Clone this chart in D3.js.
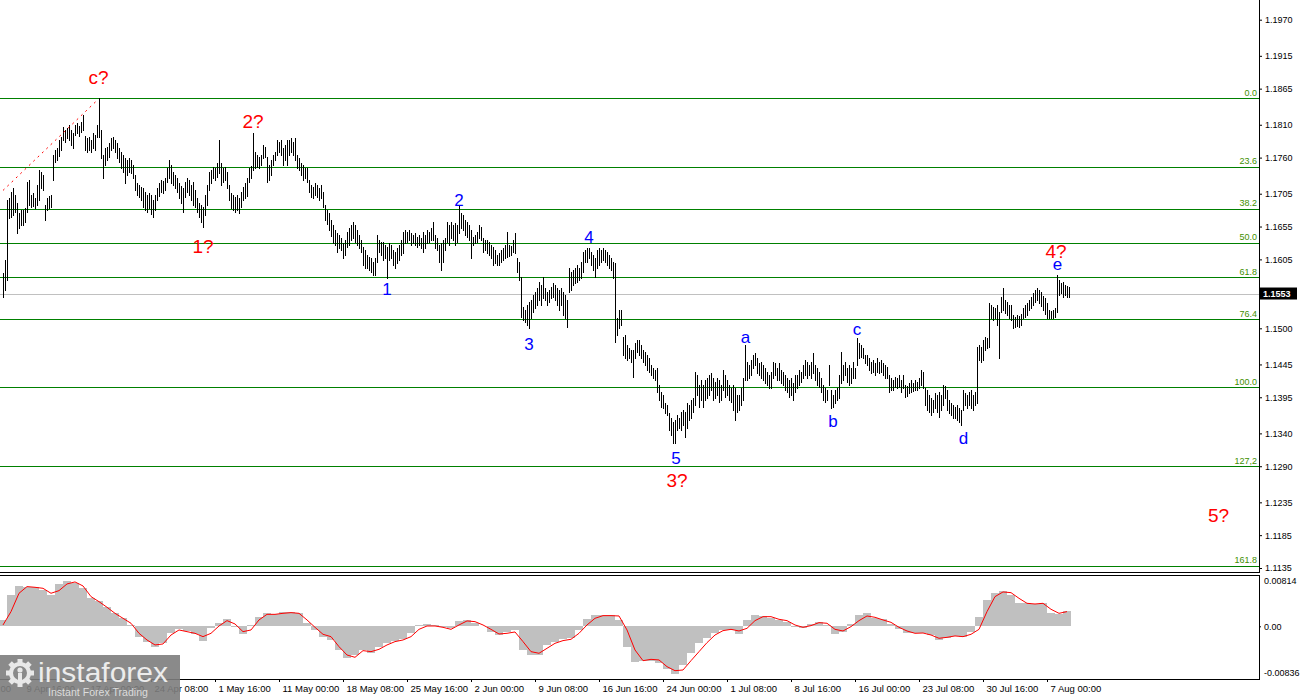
<!DOCTYPE html>
<html>
<head>
<meta charset="utf-8">
<script src="https://cdn.jsdelivr.net/npm/d3@7"></script>
<style>
  html, body { margin: 0; padding: 0; background: #fff; overflow: hidden; }
</style>
</head>
<body>
<svg id="chart" width="1300" height="700"></svg>
<script>
// H4 bars, high / low of each bar, left to right
const highs = [
  1.1584,1.1604,1.1695,1.1698,1.1708,1.1714,1.1703,1.1691,1.1676,1.1680,
  1.1680,1.1683,1.1723,1.1726,1.1703,1.1706,1.1698,1.1718,1.1741,1.1738,
  1.1733,1.1688,1.1698,1.1701,1.1703,1.1764,1.1772,1.1775,1.1787,1.1791,
  1.1807,1.1802,1.1805,1.1810,1.1802,1.1797,1.1810,1.1813,1.1808,1.1814,
  1.1825,1.1793,1.1790,1.1791,1.1787,1.1797,1.1794,1.1810,1.1850,1.1802,
  1.1764,1.1775,1.1776,1.1782,1.1790,1.1791,1.1787,1.1782,1.1775,1.1769,
  1.1764,1.1759,1.1756,1.1759,1.1756,1.1749,1.1733,1.1721,1.1718,1.1715,
  1.1714,1.1708,1.1703,1.1706,1.1703,1.1695,1.1703,1.1714,1.1721,1.1726,
  1.1724,1.1729,1.1744,1.1756,1.1749,1.1738,1.1733,1.1729,1.1721,1.1717,
  1.1714,1.1723,1.1729,1.1726,1.1718,1.1723,1.1711,1.1698,1.1691,1.1688,
  1.1685,1.1703,1.1718,1.1738,1.1741,1.1746,1.1744,1.1752,1.1787,1.1752,
  1.1744,1.1746,1.1738,1.1718,1.1706,1.1703,1.1700,1.1703,1.1698,1.1708,
  1.1715,1.1721,1.1729,1.1744,1.1747,1.1797,1.1769,1.1764,1.1761,1.1764,
  1.1779,1.1776,1.1761,1.1749,1.1756,1.1764,1.1769,1.1787,1.1784,1.1787,
  1.1775,1.1779,1.1787,1.1787,1.1790,1.1784,1.1790,1.1764,1.1759,1.1752,
  1.1749,1.1744,1.1744,1.1726,1.1718,1.1715,1.1721,1.1718,1.1714,1.1718,
  1.1708,1.1688,1.1680,1.1676,1.1665,1.1657,1.1650,1.1645,1.1642,1.1638,
  1.1630,1.1634,1.1647,1.1653,1.1657,1.1662,1.1657,1.1650,1.1642,1.1634,
  1.1624,1.1619,1.1612,1.1609,1.1607,1.1601,1.1607,1.1642,1.1634,1.1631,
  1.1631,1.1627,1.1624,1.1630,1.1627,1.1619,1.1616,1.1622,1.1627,1.1634,
  1.1647,1.1650,1.1647,1.1650,1.1645,1.1642,1.1645,1.1639,1.1642,1.1638,
  1.1647,1.1642,1.1650,1.1647,1.1653,1.1662,1.1642,1.1638,1.1627,1.1630,
  1.1634,1.1638,1.1662,1.1657,1.1662,1.1657,1.1660,1.1657,1.1688,1.1676,
  1.1673,1.1665,1.1662,1.1657,1.1650,1.1639,1.1642,1.1647,1.1657,1.1654,
  1.1638,1.1634,1.1634,1.1631,1.1627,1.1624,1.1619,1.1612,1.1615,1.1619,
  1.1622,1.1627,1.1647,1.1627,1.1625,1.1634,1.1645,1.1607,1.1601,1.1578,
  1.1532,1.1528,1.1535,1.1540,1.1543,1.1551,1.1555,1.1561,1.1571,1.1566,
  1.1578,1.1561,1.1555,1.1558,1.1563,1.1569,1.1566,1.1561,1.1558,1.1561,
  1.1555,1.1551,1.1543,1.1592,1.1586,1.1589,1.1592,1.1596,1.1592,1.1601,
  1.1616,1.1619,1.1622,1.1622,1.1616,1.1612,1.1607,1.1619,1.1622,1.1619,
  1.1622,1.1619,1.1616,1.1612,1.1607,1.1601,1.1599,1.1516,1.1528,1.1528,
  1.1487,1.1490,1.1475,1.1470,1.1467,1.1467,1.1478,1.1482,1.1482,1.1475,
  1.1467,1.1464,1.1459,1.1455,1.1444,1.1440,1.1436,1.1440,1.1414,1.1403,
  1.1398,1.1386,1.1383,1.1371,1.1363,1.1357,1.1360,1.1368,1.1363,1.1372,
  1.1376,1.1372,1.1386,1.1383,1.1391,1.1394,1.1433,1.1429,1.1414,1.1421,
  1.1414,1.1421,1.1424,1.1429,1.1432,1.1424,1.1418,1.1424,1.1421,1.1414,
  1.1436,1.1429,1.1421,1.1414,1.1409,1.1414,1.1409,1.1398,1.1398,1.1409,
  1.1424,1.1475,1.1449,1.1444,1.1452,1.1459,1.1462,1.1455,1.1447,1.1449,
  1.1444,1.1440,1.1433,1.1429,1.1433,1.1449,1.1447,1.1440,1.1447,1.1436,
  1.1433,1.1429,1.1424,1.1421,1.1424,1.1417,1.1429,1.1429,1.1436,1.1433,
  1.1444,1.1452,1.1449,1.1444,1.1449,1.1462,1.1444,1.1440,1.1433,1.1424,
  1.1414,1.1409,1.1406,1.1444,1.1406,1.1398,1.1406,1.1409,1.1429,1.1464,
  1.1444,1.1449,1.1440,1.1444,1.1440,1.1449,1.1440,1.1485,1.1478,1.1475,
  1.1470,1.1459,1.1459,1.1455,1.1449,1.1452,1.1447,1.1455,1.1449,1.1452,
  1.1447,1.1444,1.1441,1.1429,1.1424,1.1421,1.1426,1.1424,1.1429,1.1421,
  1.1429,1.1414,1.1412,1.1417,1.1421,1.1417,1.1421,1.1418,1.1424,1.1436,
  1.1433,1.1409,1.1406,1.1398,1.1394,1.1391,1.1401,1.1398,1.1403,1.1398,
  1.1414,1.1412,1.1406,1.1391,1.1386,1.1383,1.1380,1.1383,1.1379,1.1376,
  1.1406,1.1401,1.1398,1.1403,1.1406,1.1398,1.1403,1.1472,1.1475,1.1472,
  1.1482,1.1487,1.1485,1.1539,1.1535,1.1532,1.1531,1.1535,1.1525,1.1548,
  1.1561,1.1543,1.1540,1.1535,1.1535,1.1520,1.1517,1.1520,1.1519,1.1522,
  1.1531,1.1535,1.1539,1.1543,1.1548,1.1554,1.1558,1.1561,1.1558,1.1555,
  1.1549,1.1546,1.1539,1.1528,1.1526,1.1528,1.1531,1.1581,1.1574,1.1569,
  1.1571,1.1566,1.1564,1.1563
];
const lows = [
  1.1548,1.1558,1.1574,1.1668,1.1670,1.1673,1.1677,1.1645,1.1653,1.1657,
  1.1657,1.1662,1.1677,1.1688,1.1685,1.1686,1.1683,1.1688,1.1695,1.1714,
  1.1711,1.1665,1.1680,1.1683,1.1685,1.1726,1.1753,1.1756,1.1762,1.1772,
  1.1787,1.1784,1.1790,1.1787,1.1779,1.1775,1.1794,1.1797,1.1793,1.1799,
  1.1802,1.1772,1.1768,1.1772,1.1768,1.1775,1.1772,1.1791,1.1791,1.1759,
  1.1729,1.1749,1.1756,1.1761,1.1772,1.1775,1.1768,1.1759,1.1753,1.1744,
  1.1738,1.1721,1.1733,1.1738,1.1737,1.1729,1.1711,1.1703,1.1700,1.1695,
  1.1685,1.1680,1.1677,1.1683,1.1674,1.1670,1.1680,1.1695,1.1701,1.1708,
  1.1706,1.1711,1.1723,1.1729,1.1721,1.1718,1.1714,1.1708,1.1698,1.1691,
  1.1677,1.1700,1.1708,1.1703,1.1695,1.1688,1.1685,1.1677,1.1670,1.1662,
  1.1654,1.1673,1.1688,1.1711,1.1721,1.1729,1.1726,1.1730,1.1737,1.1718,
  1.1723,1.1726,1.1714,1.1695,1.1683,1.1680,1.1677,1.1680,1.1676,1.1685,
  1.1695,1.1698,1.1701,1.1723,1.1729,1.1741,1.1744,1.1746,1.1744,1.1749,
  1.1759,1.1761,1.1723,1.1726,1.1733,1.1749,1.1756,1.1764,1.1768,1.1764,
  1.1749,1.1756,1.1749,1.1764,1.1768,1.1764,1.1756,1.1744,1.1741,1.1733,
  1.1726,1.1729,1.1723,1.1708,1.1700,1.1698,1.1703,1.1700,1.1695,1.1698,
  1.1685,1.1665,1.1659,1.1650,1.1641,1.1630,1.1627,1.1616,1.1622,1.1619,
  1.1607,1.1612,1.1624,1.1627,1.1634,1.1638,1.1631,1.1627,1.1622,1.1616,
  1.1596,1.1592,1.1592,1.1589,1.1586,1.1581,1.1581,1.1601,1.1616,1.1612,
  1.1604,1.1607,1.1577,1.1604,1.1607,1.1596,1.1592,1.1599,1.1604,1.1612,
  1.1615,1.1630,1.1631,1.1634,1.1627,1.1630,1.1627,1.1624,1.1627,1.1622,
  1.1616,1.1622,1.1630,1.1631,1.1634,1.1634,1.1622,1.1619,1.1601,1.1589,
  1.1601,1.1619,1.1631,1.1627,1.1638,1.1634,1.1627,1.1631,1.1645,1.1653,
  1.1650,1.1642,1.1639,1.1634,1.1607,1.1627,1.1630,1.1631,1.1638,1.1634,
  1.1616,1.1619,1.1615,1.1612,1.1607,1.1596,1.1599,1.1596,1.1596,1.1601,
  1.1604,1.1607,1.1609,1.1610,1.1612,1.1616,1.1615,1.1586,1.1574,1.1517,
  1.1513,1.1510,1.1505,1.1500,1.1516,1.1525,1.1531,1.1535,1.1543,1.1535,
  1.1546,1.1543,1.1535,1.1540,1.1546,1.1548,1.1543,1.1535,1.1528,1.1535,
  1.1520,1.1516,1.1502,1.1555,1.1558,1.1566,1.1569,1.1571,1.1574,1.1577,
  1.1586,1.1601,1.1601,1.1607,1.1596,1.1589,1.1578,1.1592,1.1596,1.1601,
  1.1604,1.1601,1.1596,1.1592,1.1589,1.1577,1.1479,1.1490,1.1500,1.1505,
  1.1459,1.1455,1.1452,1.1455,1.1449,1.1426,1.1455,1.1464,1.1459,1.1455,
  1.1449,1.1444,1.1436,1.1433,1.1429,1.1424,1.1421,1.1403,1.1391,1.1380,
  1.1379,1.1371,1.1368,1.1345,1.1337,1.1325,1.1325,1.1345,1.1348,1.1345,
  1.1353,1.1334,1.1348,1.1360,1.1363,1.1373,1.1383,1.1398,1.1380,1.1391,
  1.1380,1.1391,1.1394,1.1398,1.1406,1.1391,1.1394,1.1398,1.1388,1.1391,
  1.1406,1.1395,1.1398,1.1391,1.1388,1.1376,1.1360,1.1373,1.1376,1.1383,
  1.1391,1.1421,1.1421,1.1424,1.1429,1.1440,1.1444,1.1432,1.1429,1.1424,
  1.1421,1.1417,1.1414,1.1409,1.1409,1.1424,1.1429,1.1421,1.1421,1.1417,
  1.1414,1.1406,1.1403,1.1395,1.1398,1.1391,1.1403,1.1409,1.1414,1.1418,
  1.1424,1.1429,1.1424,1.1429,1.1424,1.1432,1.1421,1.1414,1.1411,1.1403,
  1.1391,1.1388,1.1391,1.1414,1.1379,1.1380,1.1386,1.1391,1.1394,1.1417,
  1.1421,1.1429,1.1418,1.1414,1.1417,1.1424,1.1424,1.1444,1.1455,1.1456,
  1.1455,1.1447,1.1444,1.1436,1.1432,1.1433,1.1429,1.1433,1.1432,1.1433,
  1.1429,1.1424,1.1424,1.1403,1.1406,1.1406,1.1411,1.1409,1.1411,1.1403,
  1.1409,1.1395,1.1397,1.1401,1.1403,1.1404,1.1406,1.1406,1.1409,1.1414,
  1.1409,1.1383,1.1376,1.1373,1.1368,1.1373,1.1379,1.1373,1.1365,1.1376,
  1.1383,1.1394,1.1376,1.1371,1.1368,1.1363,1.1363,1.1360,1.1357,1.1353,
  1.1376,1.1383,1.1379,1.1383,1.1379,1.1376,1.1383,1.1386,1.1452,1.1449,
  1.1452,1.1467,1.1470,1.1472,1.1516,1.1513,1.1516,1.1505,1.1455,1.1525,
  1.1528,1.1523,1.1520,1.1516,1.1513,1.1500,1.1502,1.1503,1.1502,1.1505,
  1.1516,1.1517,1.1520,1.1528,1.1531,1.1535,1.1540,1.1543,1.1539,1.1534,
  1.1528,1.1522,1.1516,1.1516,1.1516,1.1516,1.1517,1.1525,1.1551,1.1554,
  1.1548,1.1551,1.1548,1.1548
];
const lastPrice = 1.1553;

// MACD, one reading every 4 bars
const macdStep = 4;
const macdHist = [
  0.00101,0.00497,0.00645,0.00630,0.00619,0.00577,0.00497,0.00672,0.00725,0.00693,
  0.00603,0.00444,0.00407,0.00302,0.00217,0.00127,0.00021,-0.00164,-0.00243,-0.00323,
  -0.00270,-0.00111,-0.00048,-0.00069,-0.00122,-0.00227,-0.00032,0.00058,0.00111,-0.00005,
  -0.00122,0.00021,0.00153,0.00217,0.00196,0.00233,0.00233,0.00206,0.00048,-0.00058,
  -0.00164,-0.00217,-0.00376,-0.00508,-0.00455,-0.00376,-0.00428,-0.00333,-0.00259,-0.00227,
  -0.00206,-0.00111,0.00021,0.00032,0.00021,-0.00005,-0.00032,0.00090,0.00101,0.00058,
  0.00005,-0.00085,-0.00138,-0.00085,-0.00058,-0.00376,-0.00455,-0.00455,-0.00296,-0.00243,
  -0.00206,-0.00190,-0.00058,0.00111,0.00180,0.00180,0.00180,0.00101,-0.00323,-0.00561,
  -0.00545,-0.00545,-0.00587,-0.00682,-0.00756,-0.00614,-0.00428,-0.00270,-0.00190,-0.00101,
  -0.00058,-0.00058,-0.00122,0.00101,0.00180,0.00169,0.00138,0.00101,0.00074,-0.00005,
  -0.00032,0.00037,0.00074,0.00021,-0.00122,-0.00085,0.00037,0.00180,0.00206,0.00127,
  0.00111,0.00032,-0.00048,-0.00101,-0.00111,-0.00111,-0.00138,-0.00217,-0.00190,-0.00153,
  -0.00164,-0.00085,0.00153,0.00418,0.00524,0.00566,0.00497,0.00376,0.00365,0.00354,
  0.00365,0.00217,0.00196,0.00249
];
const macdSignal = [
  0.00021,0.00233,0.00524,0.00630,0.00619,0.00603,0.00524,0.00566,0.00672,0.00704,
  0.00640,0.00471,0.00391,0.00302,0.00206,0.00127,0.00048,-0.00111,-0.00217,-0.00296,
  -0.00280,-0.00138,-0.00058,-0.00085,-0.00111,-0.00164,-0.00111,0.00005,0.00090,0.00037,
  -0.00085,-0.00058,0.00101,0.00190,0.00190,0.00206,0.00217,0.00206,0.00101,-0.00016,
  -0.00127,-0.00164,-0.00323,-0.00455,-0.00492,-0.00386,-0.00402,-0.00365,-0.00296,-0.00243,
  -0.00217,-0.00164,-0.00048,0.00005,0.00005,-0.00016,-0.00048,0.00021,0.00085,0.00074,
  0.00021,-0.00048,-0.00122,-0.00111,-0.00090,-0.00243,-0.00402,-0.00428,-0.00349,-0.00270,
  -0.00227,-0.00206,-0.00111,0.00021,0.00127,0.00169,0.00169,0.00164,-0.00058,-0.00376,
  -0.00545,-0.00524,-0.00534,-0.00640,-0.00704,-0.00693,-0.00545,-0.00402,-0.00259,-0.00138,
  -0.00069,-0.00048,-0.00074,-0.00032,0.00090,0.00153,0.00153,0.00111,0.00090,0.00021,
  -0.00016,0.00011,0.00058,0.00048,-0.00048,-0.00074,-0.00005,0.00090,0.00164,0.00143,
  0.00101,0.00063,-0.00016,-0.00074,-0.00111,-0.00106,-0.00138,-0.00190,-0.00175,-0.00153,
  -0.00164,-0.00127,-0.00048,0.00233,0.00471,0.00545,0.00534,0.00444,0.00365,0.00354,
  0.00365,0.00270,0.00206,0.00233
];
const macdMax = 0.00814, macdMin = -0.00836;

// axes
const priceTicks = [1.1970,1.1915,1.1865,1.1810,1.1760,1.1705,1.1655,1.1605,1.1500,1.1445,1.1395,1.1340,1.1290,1.1235,1.1185,1.1135];
const timeLabels = ["2 Apr 08:00","9 Apr 16:00","17 Apr 00:00","24 Apr 08:00","1 May 16:00","11 May 00:00",
  "18 May 08:00","25 May 16:00","2 Jun 00:00","9 Jun 08:00","16 Jun 16:00","24 Jun 00:00","1 Jul 08:00",
  "8 Jul 16:00","16 Jul 00:00","23 Jul 08:00","30 Jul 16:00","7 Aug 00:00"];
const firstLabelBar = -22, labelStep = 32;

// fibonacci grid
const fibHigh = 1.1850, fibLow = 1.1410;
const fibLevels = [0, 23.6, 38.2, 50, 61.8, 76.4, 100, 127.2, 161.8];
const fibTexts = ["0.0","23.6","38.2","50.0","61.8","76.4","100.0","127,2","161.8"];

const trendLine = [{bar: 0, price: 1.1710}, {bar: 47, price: 1.1847}];

// wave marks
const waveRed = [
  {t: "c?", bar: 47.75, price: 1.1872}, {t: "2?", bar: 125, price: 1.1805},
  {t: "1?", bar: 100, price: 1.1615},   {t: "3?", bar: 337, price: 1.1258},
  {t: "4?", bar: 526.5, price: 1.1607}, {t: "5?", bar: 607.75, price: 1.1205}
];
const waveBlue = [
  {t: "2", bar: 228, price: 1.1686}, {t: "1", bar: 192, price: 1.1551},
  {t: "3", bar: 263, price: 1.1467}, {t: "4", bar: 293, price: 1.1630},
  {t: "5", bar: 336.5, price: 1.1293}, {t: "a", bar: 371.25, price: 1.1478},
  {t: "b", bar: 415, price: 1.1350}, {t: "c", bar: 427, price: 1.1490},
  {t: "d", bar: 480.25, price: 1.1324}, {t: "e", bar: 527.25, price: 1.1589}
];

const font = "'Liberation Sans', Arial, sans-serif";
const axisX = 1259.5;
const svg = d3.select('#chart');

const x = d3.scaleLinear().domain([0, highs.length - 1]).range([3, 3 + 2 * (highs.length - 1)]);
const y = d3.scaleLinear().domain([1.1135, 1.2000]).range([568, 0]);
const ym = d3.scaleLinear().domain([macdMin, macdMax]).range([679, 575]);
const crisp = v => Math.round(v) + 0.5;

svg.append('rect').attr('width', 1300).attr('height', 700).attr('fill', '#fff');

const defs = svg.append('defs');
defs.append('clipPath').attr('id', 'mainClip').append('rect')
  .attr('x', 0).attr('y', 0).attr('width', 1259).attr('height', 572);
defs.append('clipPath').attr('id', 'macdClip').append('rect')
  .attr('x', 0).attr('y', 576).attr('width', 1259).attr('height', 103);

const main = svg.append('g').attr('clip-path', 'url(#mainClip)');

// fib lines + labels
const fibPrice = l => fibHigh - (fibHigh - fibLow) * l / 100;
main.selectAll('line.fib').data(fibLevels).enter().append('line')
  .attr('class', 'fib')
  .attr('x1', 0).attr('x2', axisX)
  .attr('y1', d => crisp(y(fibPrice(d)))).attr('y2', d => crisp(y(fibPrice(d))))
  .attr('stroke', '#008000').attr('shape-rendering', 'crispEdges');
main.selectAll('text.fib').data(fibLevels).enter().append('text')
  .attr('class', 'fib')
  .attr('x', 1257).attr('y', d => y(fibPrice(d)) - 2.5)
  .attr('text-anchor', 'end')
  .attr('font-family', font).attr('font-size', 9)
  .attr('fill', '#3f8f00')
  .text((d, i) => fibTexts[i]);

// last price line
main.append('line')
  .attr('x1', 0).attr('x2', axisX)
  .attr('y1', crisp(y(lastPrice))).attr('y2', crisp(y(lastPrice)))
  .attr('stroke', '#c0c0c0').attr('shape-rendering', 'crispEdges');

// price bars
main.selectAll('line.bar').data(highs).enter().append('line')
  .attr('class', 'bar')
  .attr('x1', (d, i) => crisp(x(i))).attr('x2', (d, i) => crisp(x(i)))
  .attr('y1', d => Math.round(y(d))).attr('y2', (d, i) => Math.round(y(lows[i])) + 1)
  .attr('stroke', '#000').attr('shape-rendering', 'crispEdges');

// dotted trend line
main.append('line')
  .attr('x1', x(trendLine[0].bar)).attr('y1', y(trendLine[0].price))
  .attr('x2', x(trendLine[1].bar)).attr('y2', y(trendLine[1].price))
  .attr('stroke', '#ff0000').attr('stroke-dasharray', '2,4');

// wave labels
svg.selectAll('text.wr').data(waveRed).enter().append('text')
  .attr('class', 'wr')
  .attr('x', d => x(d.bar)).attr('y', d => y(d.price))
  .attr('text-anchor', 'middle')
  .attr('font-family', font).attr('font-size', 19)
  .attr('fill', '#ff0000').text(d => d.t);
svg.selectAll('text.wb').data(waveBlue).enter().append('text')
  .attr('class', 'wb')
  .attr('x', d => x(d.bar)).attr('y', d => y(d.price))
  .attr('text-anchor', 'middle')
  .attr('font-family', font).attr('font-size', 17)
  .attr('fill', '#0000ff').text(d => d.t);

// price axis
const yAxis = d3.axisRight(y).tickValues(priceTicks).tickSize(3).tickSizeOuter(0)
  .tickFormat(d3.format('.4f'));
const gy = svg.append('g').attr('transform', `translate(${axisX - 0.5},0)`).call(yAxis);
gy.select('.domain').remove();
gy.attr('font-family', font).attr('font-size', 9);
gy.selectAll('text').attr('fill', '#000');
gy.selectAll('line').attr('stroke', '#000');

// last price tag
svg.append('rect')
  .attr('x', 1260).attr('y', y(lastPrice) - 6).attr('width', 37).attr('height', 12)
  .attr('fill', '#000');
svg.append('text')
  .attr('x', 1263).attr('y', y(lastPrice) + 3.5)
  .attr('font-family', font).attr('font-size', 9).attr('font-weight', 'bold')
  .attr('fill', '#fff').text(lastPrice.toFixed(4));

// MACD panel
const macd = svg.append('g').attr('clip-path', 'url(#macdClip)');
macd.selectAll('rect.h').data(macdHist).enter().append('rect')
  .attr('class', 'h')
  .attr('x', (d, k) => x(k * macdStep) - 4)
  .attr('width', 8)
  .attr('y', d => ym(Math.max(d, 0)))
  .attr('height', d => Math.abs(ym(d) - ym(0)))
  .attr('fill', '#c0c0c0').attr('shape-rendering', 'crispEdges');
macd.append('path')
  .datum(macdSignal)
  .attr('d', d3.line().x((d, k) => x(k * macdStep)).y(d => ym(d)))
  .attr('fill', 'none').attr('stroke', '#ff0000').attr('stroke-width', 1);

const gm = svg.append('g').attr('transform', `translate(${axisX - 0.5},0)`)
  .call(d3.axisRight(ym).tickValues([macdMax, 0, macdMin]).tickSize(2).tickSizeOuter(0)
    .tickFormat(d => d === 0 ? '0.00' : d.toFixed(5)));
gm.select('.domain').remove();
gm.attr('font-family', font).attr('font-size', 9);
gm.selectAll('text').attr('fill', '#000')
  .attr('dy', d => d === macdMax ? '0.95em' : d === macdMin ? '-0.35em' : '0.32em');
gm.selectAll('line').attr('stroke', d => d === 0 ? '#000' : 'none');

// frames
const frame = svg.append('g').attr('stroke', '#000').attr('shape-rendering', 'crispEdges');
frame.append('line').attr('x1', axisX).attr('x2', axisX).attr('y1', 0).attr('y2', 573);
frame.append('line').attr('x1', 0).attr('x2', axisX).attr('y1', 572.5).attr('y2', 572.5);
frame.append('line').attr('x1', 0).attr('x2', axisX).attr('y1', 575.5).attr('y2', 575.5);
frame.append('line').attr('x1', 0).attr('x2', axisX).attr('y1', 679.5).attr('y2', 679.5);
frame.append('line').attr('x1', axisX).attr('x2', axisX).attr('y1', 575).attr('y2', 680);

// time axis
const labelBars = timeLabels.map((t, i) => firstLabelBar + i * labelStep);
const gx = svg.append('g').attr('transform', 'translate(0,679)')
  .call(d3.axisBottom(x).tickValues(labelBars).tickSize(3).tickSizeOuter(0)
    .tickFormat((d, i) => timeLabels[i]));
gx.select('.domain').remove();
gx.attr('font-family', font).attr('font-size', 9.5);
gx.selectAll('text').attr('text-anchor', 'start').attr('dx', 3).attr('fill', '#000');
gx.selectAll('line').attr('stroke', '#000');

// logo
const logo = svg.append('g');
logo.append('rect').attr('x', 0).attr('y', 655).attr('width', 180).attr('height', 45)
  .attr('fill', '#7d7d7d').attr('opacity', 0.9);
const gear = logo.append('g').attr('transform', 'translate(20,673)').attr('fill', '#e8e8e8');
gear.append('circle').attr('r', 9).attr('fill', 'none').attr('stroke', '#e8e8e8').attr('stroke-width', 4);
gear.selectAll('rect').data(d3.range(8)).enter().append('rect')
  .attr('x', -2.5).attr('y', -14).attr('width', 5).attr('height', 5)
  .attr('transform', d => `rotate(${d * 45})`);
gear.append('circle').attr('cy', -3).attr('r', 2.6);
gear.append('rect').attr('x', -2).attr('y', 0).attr('width', 4).attr('height', 8);
logo.append('text').attr('x', 38).attr('y', 682)
  .attr('font-family', font).attr('font-size', 27).attr('fill', '#ececec')
  .attr('textLength', 130).attr('lengthAdjust', 'spacingAndGlyphs')
  .text('instaforex');
logo.append('text').attr('x', 48).attr('y', 696)
  .attr('font-family', font).attr('font-size', 11).attr('fill', '#dcdcdc')
  .attr('textLength', 100).attr('lengthAdjust', 'spacingAndGlyphs')
  .text('Instant Forex Trading');
</script>
</body>
</html>
